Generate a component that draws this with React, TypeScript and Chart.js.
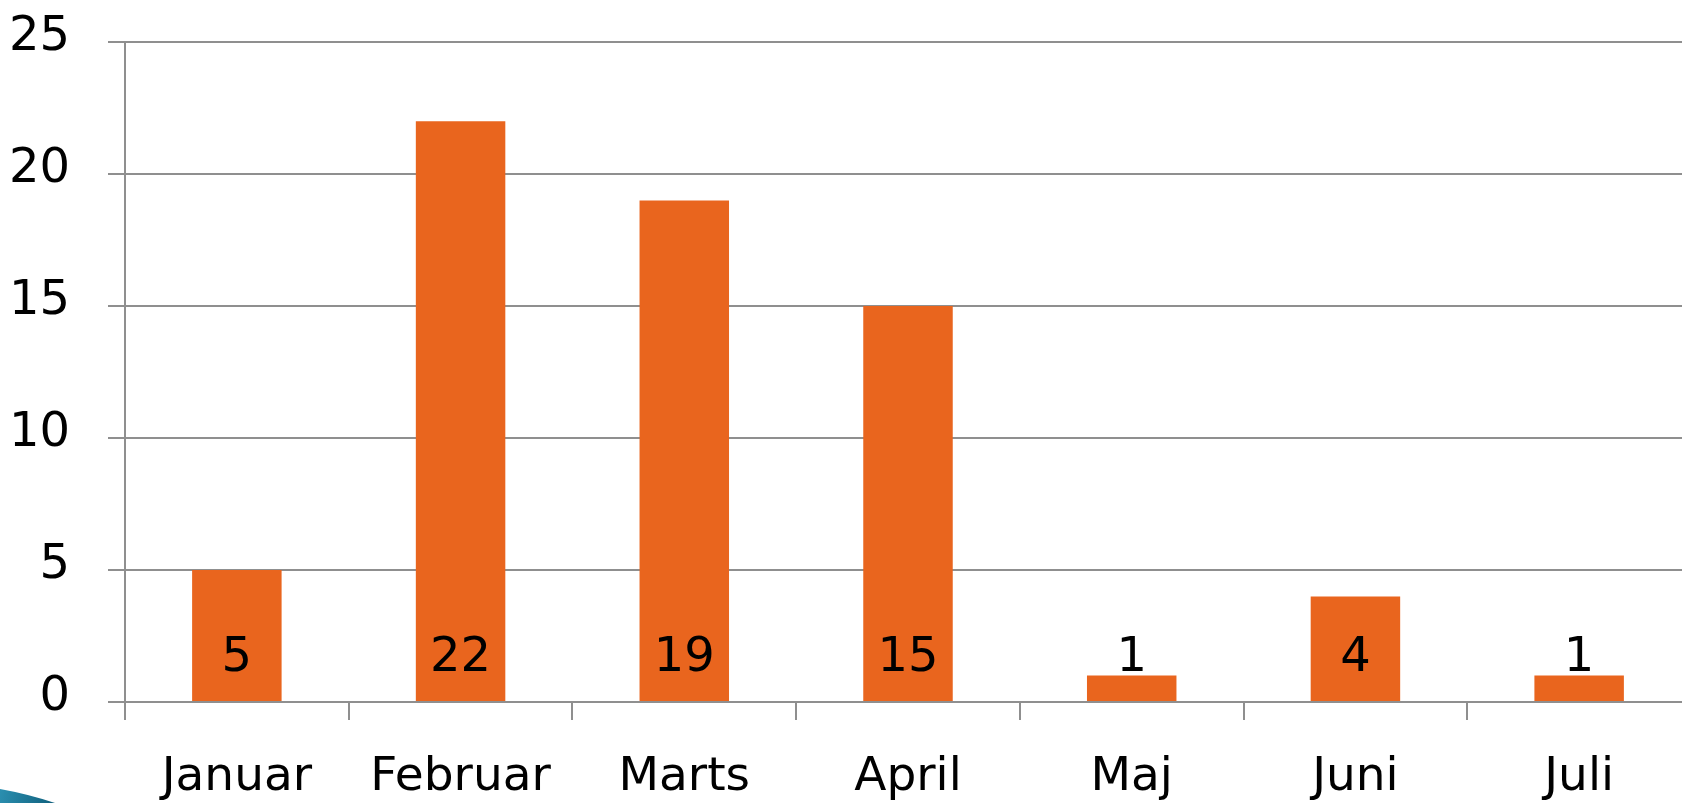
import React, { useEffect, useRef } from "react";
import { Chart, registerables } from "chart.js";

Chart.register(...registerables);

const categories = ["Januar", "Februar", "Marts", "April", "Maj", "Juni", "Juli"];
const values = [5, 22, 19, 15, 1, 4, 1];
const yTicks = [0, 5, 10, 15, 20, 25];

const BAR_COLOR = "#E9651E";
const GRID_COLOR = "#8f8f8f";
const FONT = "'DejaVu Sans', sans-serif";

const dataLabelPlugin = {
  id: "dataLabels",
  afterDatasetsDraw(chart: any) {
    const ctx = chart.ctx;
    const meta = chart.getDatasetMeta(0);
    const yScale = chart.scales.y;
    const baseY = yScale.getPixelForValue(0) - 31;
    ctx.save();
    ctx.font = `48px ${FONT}`;
    ctx.fillStyle = "#000";
    ctx.textAlign = "center";
    ctx.textBaseline = "alphabetic";
    meta.data.forEach((bar: any, i: number) => {
      ctx.fillText(String(values[i]), bar.x, baseY);
    });
    ctx.restore();
  },
};

// small decorative slide swoosh in the bottom-left corner
const swooshPlugin = {
  id: "swoosh",
  afterDraw(chart: any) {
    const ctx = chart.ctx;
    const h = chart.height;
    ctx.save();
    const g = ctx.createLinearGradient(0, h - 14, 55, h);
    g.addColorStop(0, "#2b8fb0");
    g.addColorStop(1, "#0f5f7c");
    ctx.fillStyle = g;
    ctx.beginPath();
    ctx.moveTo(0, h - 14);
    ctx.quadraticCurveTo(28, h - 9, 55, h);
    ctx.lineTo(0, h);
    ctx.closePath();
    ctx.fill();
    ctx.restore();
  },
};

export default function App() {
  const ref = useRef<HTMLCanvasElement | null>(null);
  useEffect(() => {
    if (!ref.current) return;
    const chart = new Chart(ref.current, {
      type: "bar",
      data: {
        labels: categories,
        datasets: [
          {
            data: values,
            backgroundColor: BAR_COLOR,
            borderWidth: 0,
            barPercentage: 0.8,
            categoryPercentage: 0.5,
          },
        ],
      },
      options: {
        responsive: false,
        animation: false,
        devicePixelRatio: 1,
        layout: { padding: { top: 42, left: 0, right: 0, bottom: 0 } },
        plugins: { legend: { display: false }, tooltip: { enabled: false } },
        scales: {
          x: {
            offset: true,
            grid: {
              offset: true,
              drawOnChartArea: false,
              drawTicks: true,
              tickLength: 18,
              color: GRID_COLOR,
              lineWidth: 2,
            },
            border: { display: true, color: GRID_COLOR, width: 2 },
            ticks: {
              color: "#000",
              font: { family: FONT, size: 47 },
              padding: 30,
              maxRotation: 0,
              autoSkip: false,
            },
            afterFit(scale: any) {
              scale.height = 101;
              scale.paddingLeft = 0;
              scale.paddingRight = 0;
            },
          },
          y: {
            min: 0,
            max: 25,
            afterBuildTicks(scale: any) {
              scale.ticks = yTicks.map((v) => ({ value: v }));
            },
            grid: {
              color: GRID_COLOR,
              lineWidth: 2,
              tickLength: 17,
              drawTicks: true,
            },
            border: { display: true, color: GRID_COLOR, width: 2 },
            ticks: {
              color: "#000",
              font: { family: FONT, size: 48 },
              padding: 38,
              labelOffset: -4,
            },
            afterFit(scale: any) {
              scale.width = 125;
              scale.paddingTop = 0;
              scale.paddingBottom = 0;
            },
          },
        },
      },
      plugins: [dataLabelPlugin, swooshPlugin],
    });
    return () => chart.destroy();
  }, []);

  return (
    <div
      style={{
        position: "fixed",
        left: 0,
        top: 0,
        width: 1682,
        height: 803,
        overflow: "hidden",
        background: "#fff",
      }}
    >
      <canvas ref={ref} width={1691} height={803} style={{ display: "block" }} />
    </div>
  );
}
